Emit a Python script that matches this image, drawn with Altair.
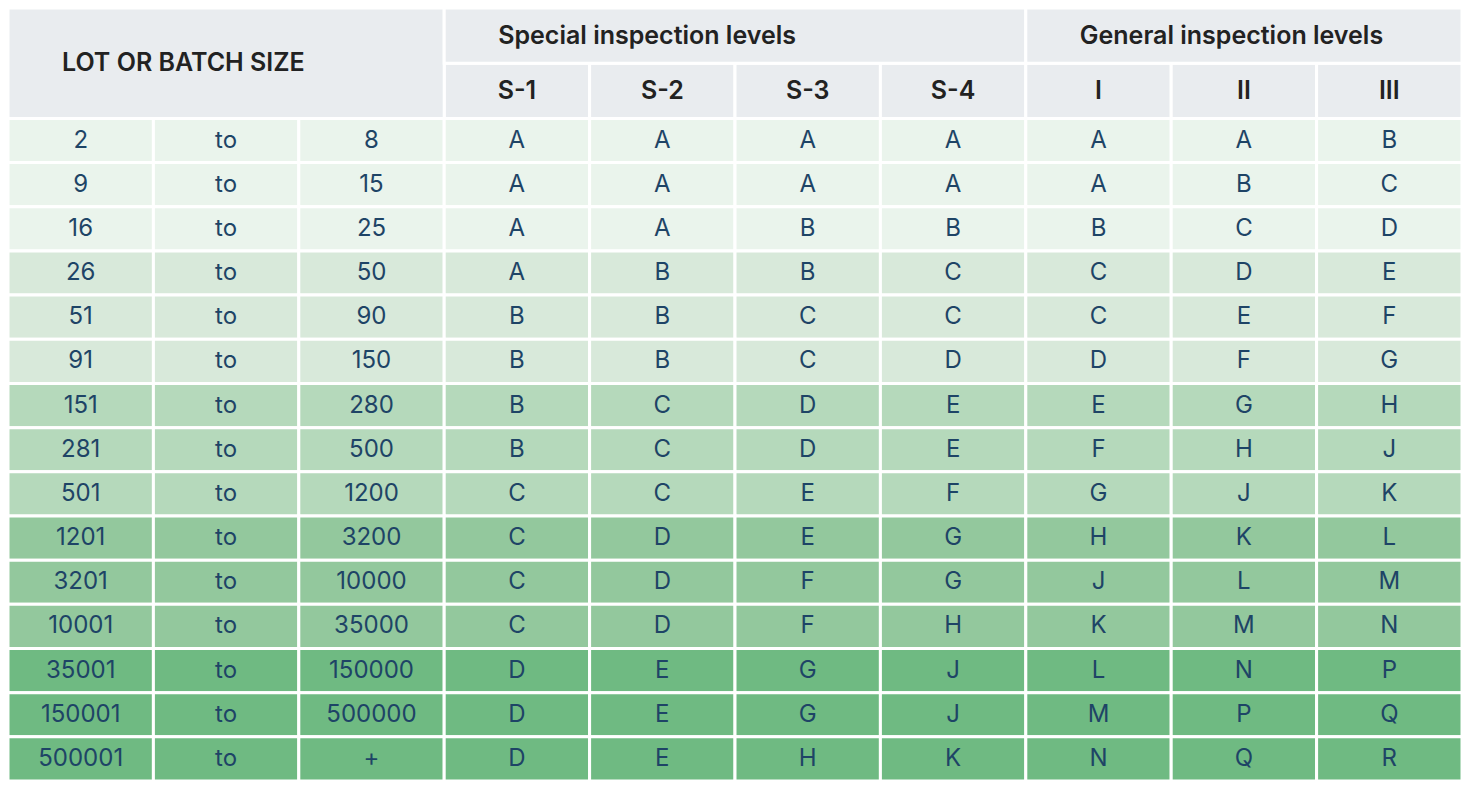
import altair as alt
import pandas as pd

lot_from = ["2", "9", "16", "26", "51", "91", "151", "281", "501", "1201",
            "3201", "10001", "35001", "150001", "500001"]
lot_word = ["to"] * 15
lot_to = ["8", "15", "25", "50", "90", "150", "280", "500", "1200", "3200",
          "10000", "35000", "150000", "500000", "+"]
s1 = list("AAAABBBBCCCCDDD")
s2 = list("AAABBBCCCDDDEEE")
s3 = list("AABBCCDDEEFFGGH")
s4 = list("AABCCDEEFGGHJJK")
g1 = list("AABCCDEFGHJKLMN")
g2 = list("ABCDEFGHJKLMNPQ")
g3 = list("BCDEFGHJKLMNPQR")

sub_headers = ["S-1", "S-2", "S-3", "S-4", "I", "II", "III"]
group_headers = ["Special inspection levels", "General inspection levels"]
corner_header = "LOT OR BATCH SIZE"

band_colors = ["#EAF4EC", "#D8E9DA", "#B5D9BB", "#93C89D", "#6FBA82"]
header_color = "#E9ECEF"

# ---- table layout (grid units) ----
H0, H1 = 1.25, 2.5          # header row boundaries
columns = [lot_from, lot_word, lot_to, s1, s2, s3, s4, g1, g2, g3]

cells = []
for r in range(15):
    for c, col in enumerate(columns):
        cells.append(dict(x0=c, x1=c + 1, y0=H1 + r, y1=H1 + r + 1,
                          fill=band_colors[r // 3], label=col[r], kind="data"))
for i, h in enumerate(sub_headers):
    cells.append(dict(x0=3 + i, x1=4 + i, y0=H0, y1=H1,
                      fill=header_color, label=h, kind="sub"))
cells.append(dict(x0=0, x1=3, y0=0, y1=H1, fill=header_color,
                  label=corner_header, kind="top"))
cells.append(dict(x0=3, x1=7, y0=0, y1=H0, fill=header_color,
                  label=group_headers[0], kind="top"))
cells.append(dict(x0=7, x1=10, y0=0, y1=H0, fill=header_color,
                  label=group_headers[1], kind="top"))

df = pd.DataFrame(cells)
df["xc"] = (df.x0 + df.x1) / 2
df["yc"] = (df.y0 + df.y1) / 2

W, Hh = 1454, 773
xs = alt.Scale(domain=[0, 10], range=[0, W], nice=False, zero=False)
ys = alt.Scale(domain=[0, H1 + 15], range=[0, Hh], nice=False, zero=False)

base = alt.Chart(df)

rects = base.mark_rect(stroke="white", strokeWidth=3).encode(
    x=alt.X("x0:Q", scale=xs, axis=None),
    x2="x1:Q",
    y=alt.Y("y0:Q", scale=ys, axis=None),
    y2="y1:Q",
    fill=alt.Fill("fill:N", scale=None),
)

FONT = "Inter"

data_text = base.transform_filter(alt.datum.kind == "data").mark_text(
    font=FONT, fontSize=24, color="#1E4466", align="center", baseline="middle"
).encode(x=alt.X("xc:Q", scale=xs), y=alt.Y("yc:Q", scale=ys), text="label:N")

sub_text = base.transform_filter(alt.datum.kind == "sub").mark_text(
    font=FONT, fontSize=25, fontWeight=600, color="#222222",
    align="center", baseline="middle"
).encode(x=alt.X("xc:Q", scale=xs), y=alt.Y("yc:Q", scale=ys), text="label:N")

top_text = base.transform_filter(alt.datum.kind == "top").mark_text(
    font=FONT, fontSize=25, fontWeight=600, color="#222222",
    align="left", baseline="middle", dx=54
).encode(x=alt.X("x0:Q", scale=xs), y=alt.Y("yc:Q", scale=ys), text="label:N")

chart = alt.layer(rects, data_text, sub_text, top_text).properties(
    width=W, height=Hh, padding=0,
    autosize=alt.AutoSizeParams(type="none"),
).configure_view(stroke=None)

chart.save("out.html", embed_options={"renderer": "svg", "actions": False})
